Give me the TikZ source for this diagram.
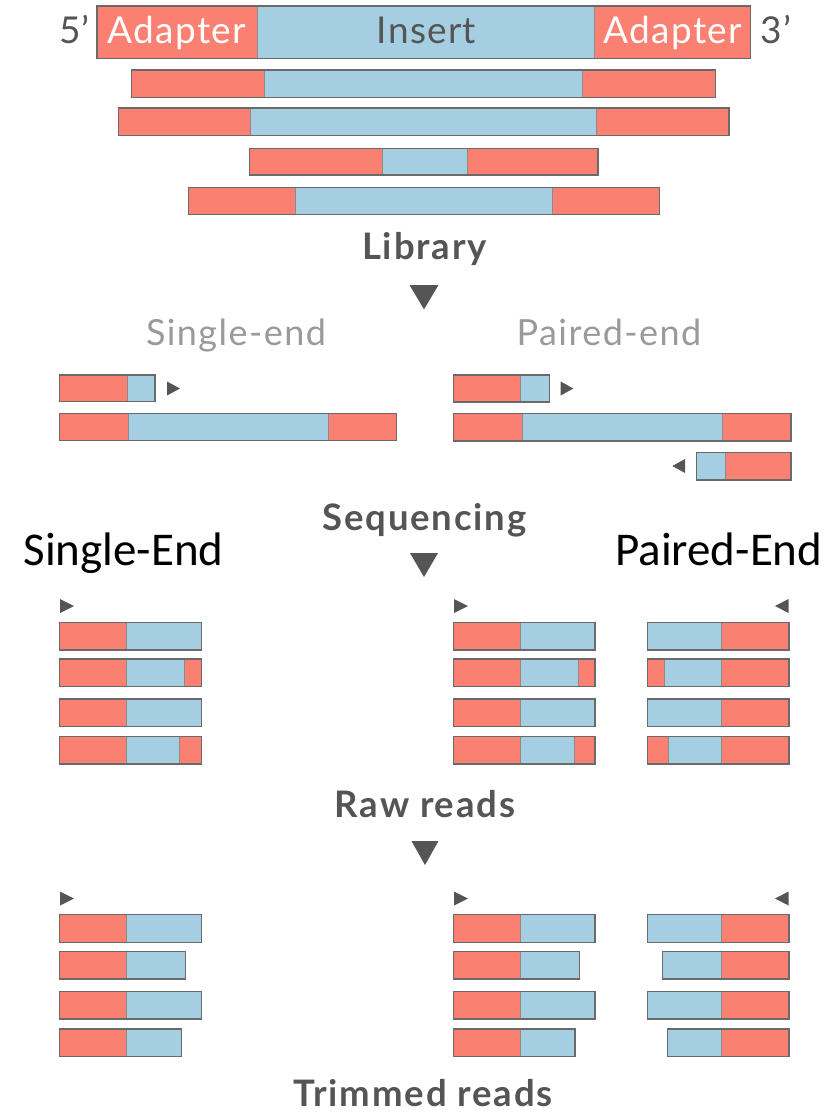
\documentclass[tikz,border=0pt]{standalone}
\usepackage{fontspec}
\setmainfont{Lato}
\newfontfamily\calib{Carlito}
\definecolor{adred}{HTML}{FA8072}
\definecolor{insblue}{HTML}{A6CEE3}
\definecolor{edge}{HTML}{6A6A6A}
\definecolor{divline}{HTML}{8A8A8A}
\definecolor{dark}{HTML}{555555}
\definecolor{lightgr}{HTML}{9A9A9A}
% #1 ytop, #2 ybottom, #3 segments xa/xb/colour, #4 xleft, #5 xright
\newcommand\strand[5]{%
  \foreach \sa/\sb/\sc in {#3}{\fill[\sc,draw=divline,line width=0.6pt] (\sa,#1) rectangle (\sb,#2);}
  \draw[edge,line width=1.5pt] (#4,#1) rectangle (#5,#2);}
\newcommand\triR[3]{\fill[dark] (#1,#3-7) -- (#2,#3) -- (#1,#3+7) -- cycle;}
\newcommand\triL[3]{\fill[dark] (#2,#3-7) -- (#1,#3) -- (#2,#3+7) -- cycle;}
\tikzset{
  lab/.style={anchor=base,inner sep=0pt,text=dark,font=\fontsize{36.5}{40}\selectfont\bfseries\addfontfeature{LetterSpace=5}},
  toplab/.style={anchor=base,inner sep=0pt,font=\fontsize{37}{42}\selectfont\addfontfeature{LetterSpace=3.5}},
  modelab/.style={anchor=base,inner sep=0pt,text=lightgr,font=\fontsize{36}{42}\selectfont\addfontfeature{LetterSpace=4}},
  biglab/.style={anchor=base west,inner sep=0pt,text=black,font=\calib\fontsize{47}{52}\selectfont},
  step arrow/.style={fill=dark}
}
\begin{document}
\begin{tikzpicture}[x=1pt,y=-1pt]
\useasboundingbox (0,0) rectangle (827,1112);
% ---------- top construct ----------
\strand{6}{58.5}{97/257/adred,257/594/insblue,594/750.5/adred}{97}{750.5}
\node[toplab,text=dark] (p5) at (74.5,43) {5’};
\node[toplab,text=white] (ad1) at (177,43) {Adapter};
\node[toplab,text=dark] (ins) at (426.5,43) {Insert};
\node[toplab,text=white] (ad2) at (673,43) {Adapter};
\node[toplab,text=dark] (p3) at (776,43) {3’};
% ---------- library ----------
\strand{70}{97.3}{131.7/264/adred,264/582.7/insblue,582.7/715.7/adred}{131.7}{715.7}
\strand{108}{135.7}{118.3/250.7/adred,250.7/596/insblue,596/729/adred}{118.3}{729}
\strand{148.3}{175}{249.3/382/adred,382/467.3/insblue,467.3/598/adred}{249.3}{598}
\strand{187.3}{214.3}{188.3/295/adred,295/552.3/insblue,552.3/659.3/adred}{188.3}{659.3}
\node[lab] (library) at (424.5,259.3) {Library};
\fill[step arrow] (409.5,285) -- (438.5,285) -- (424,309.3) -- cycle;
% ---------- sequencing ----------
\node[modelab] (se) at (236,345) {Single-end};
\node[modelab] (pe) at (609,345) {Paired-end};
\strand{375}{401.7}{59.3/127/adred,127/155/insblue}{59.3}{155}
\triR{167}{180}{388.5}
\strand{413.3}{440.7}{59.3/128.3/adred,128.3/328.3/insblue,328.3/396.7/adred}{59.3}{396.7}
\strand{375}{402}{453.3/520.7/adred,520.7/549.3/insblue}{453.3}{549.3}
\triR{560.7}{573.3}{388.5}
\strand{413.3}{441}{453.3/522/adred,522/722/insblue,722/791/adred}{453.3}{791}
\strand{452.7}{480}{696.7/725/insblue,725/791/adred}{696.7}{791}
\triL{672.3}{685}{466}
\node[lab] (sequencing) at (424.5,530) {Sequencing};
\fill[step arrow] (410,553) -- (438,553) -- (424,577) -- cycle;
\node[biglab] (SE) at (23.3,565) {Single-End};
\node[biglab] (PE) at (615,565) {Paired-End};
% ---------- raw reads ----------
\triR{60}{74}{606}
\triR{454}{468}{606}
\triL{775}{788.5}{606}
% single-end raw
\strand{622.3}{650}{59.3/126.7/adred,126.7/201.3/insblue}{59.3}{201.3}
\strand{659}{686.7}{59.3/126.7/adred,126.7/184.3/insblue,184.3/201.3/adred}{59.3}{201.3}
\strand{699}{726.7}{59.3/126.7/adred,126.7/201.3/insblue}{59.3}{201.3}
\strand{736.7}{764}{59.3/126.7/adred,126.7/179.3/insblue,179.3/201.3/adred}{59.3}{201.3}
% paired-end raw, forward
\strand{622.3}{650}{453.3/520.7/adred,520.7/595/insblue}{453.3}{595}
\strand{659}{686.7}{453.3/520.7/adred,520.7/578.7/insblue,578.7/595/adred}{453.3}{595}
\strand{699}{726.7}{453.3/520.7/adred,520.7/595/insblue}{453.3}{595}
\strand{736.7}{764}{453.3/520.7/adred,520.7/574/insblue,574/595/adred}{453.3}{595}
% paired-end raw, reverse
\strand{622.3}{650}{647.3/721.7/insblue,721.7/789/adred}{647.3}{789}
\strand{659}{686.7}{647.3/664.3/adred,664.3/721.7/insblue,721.7/789/adred}{647.3}{789}
\strand{699}{726.7}{647.3/721.7/insblue,721.7/789/adred}{647.3}{789}
\strand{736.7}{764}{647.3/668.3/adred,668.3/721.7/insblue,721.7/789/adred}{647.3}{789}
\node[lab] (raw) at (425,817.3) {Raw reads};
\fill[step arrow] (411.5,841) -- (438.5,841) -- (425,865) -- cycle;
% ---------- trimmed reads ----------
\triR{60}{74}{898.5}
\triR{454}{468}{898.5}
\triL{775}{788.5}{898.5}
\strand{914.3}{942.3}{59.3/126.7/adred,126.7/201.3/insblue}{59.3}{201.3}
\strand{951.7}{979}{59.3/126.7/adred,126.7/185.3/insblue}{59.3}{185.3}
\strand{991.7}{1019}{59.3/126.7/adred,126.7/201.3/insblue}{59.3}{201.3}
\strand{1029}{1056.7}{59.3/126.7/adred,126.7/181.7/insblue}{59.3}{181.7}
\strand{914.3}{942.3}{453.3/520.7/adred,520.7/595/insblue}{453.3}{595}
\strand{951.7}{979}{453.3/520.7/adred,520.7/579.3/insblue}{453.3}{579.3}
\strand{991.7}{1019}{453.3/520.7/adred,520.7/595/insblue}{453.3}{595}
\strand{1029}{1056.7}{453.3/520.7/adred,520.7/575/insblue}{453.3}{575}
\strand{914.3}{942.3}{647.3/721.7/insblue,721.7/789/adred}{647.3}{789}
\strand{951.7}{979}{662.3/721.7/insblue,721.7/789/adred}{662.3}{789}
\strand{991.7}{1019}{647.3/721.7/insblue,721.7/789/adred}{647.3}{789}
\strand{1029}{1056.7}{667.3/721.7/insblue,721.7/789/adred}{667.3}{789}
\node[lab] (trimmed) at (423,1106) {Trimmed reads};
\end{tikzpicture}
\end{document}
